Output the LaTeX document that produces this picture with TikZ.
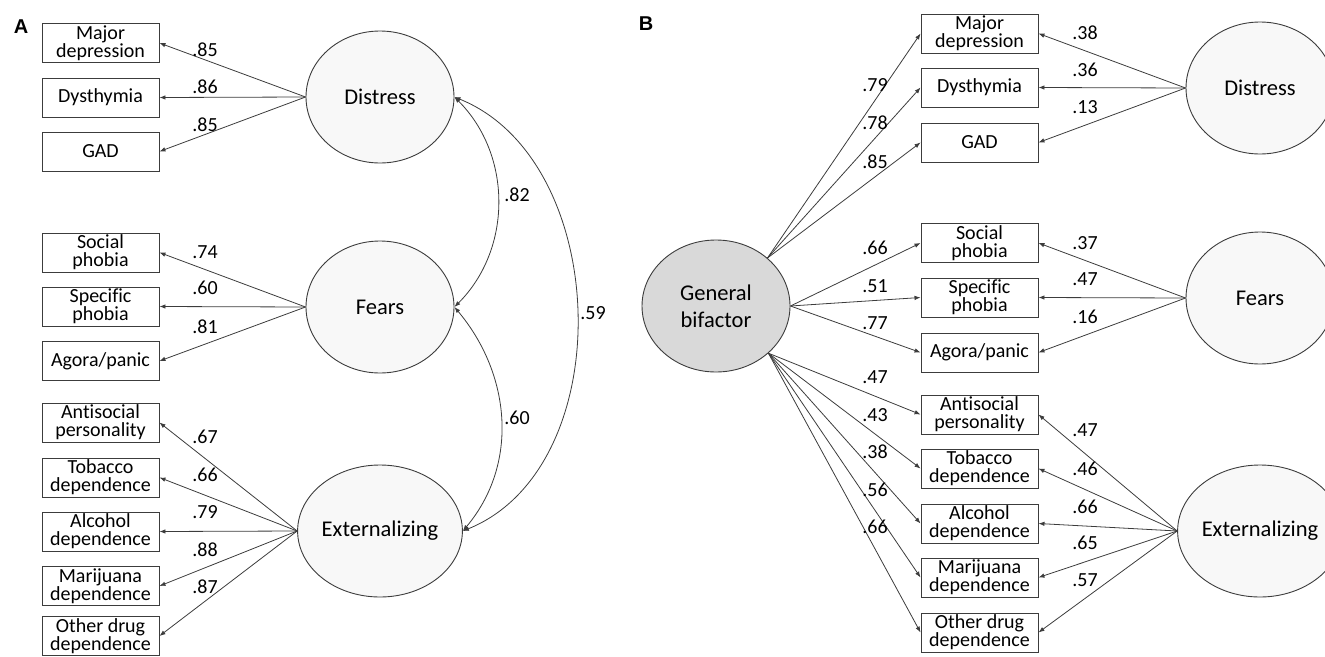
\documentclass[tikz,border=0pt]{standalone}
\usepackage{fontspec}
\setmainfont{Carlito}[Ligatures=NoCommon]
\newfontfamily\panelfont{Liberation Sans}
\usetikzlibrary{shapes.geometric,arrows.meta}

\definecolor{linegray}{HTML}{3C3C3C}
\definecolor{latfill}{HTML}{F8F8F8}
\definecolor{genfill}{HTML}{D9D9D9}

\begin{document}
\begin{tikzpicture}
  [x=1pt,y=1pt,>={Latex[length=6pt,width=4.5pt]},
   obs/.style={draw=linegray,line width=.9pt,minimum width=117pt,minimum height=39pt,
     inner sep=0pt,align=center,font=\fontsize{20}{18}\selectfont},
   lat/.style={ellipse,draw=linegray,line width=.9pt,fill=latfill,minimum width=148pt,
     minimum height=132pt,inner sep=0pt,align=center,font=\fontsize{22.5}{27}\selectfont},
   coef/.style={inner sep=0pt,font=\fontsize{20}{20}\selectfont},
   load/.style={->,draw=linegray,line width=.8pt},
   cov/.style={<->,draw=linegray,line width=.8pt},
   panel/.style={inner sep=0pt,font=\panelfont\bfseries\fontsize{20}{20}\selectfont}]
  \useasboundingbox (0,0) rectangle (1325,-656);

  % panel A
  \node[panel] (pa) at (21,-27) {A};
  \node[obs] (a1) at (100.5,-43) {Major\\depression};
  \node[obs] (a2) at (100.5,-97.5) {Dysthymia};
  \node[obs] (a3) at (100.5,-151.5) {GAD};
  \node[obs] (a4) at (100.5,-252.5) {Social\\phobia};
  \node[obs] (a5) at (100.5,-306.5) {Specific\\phobia};
  \node[obs] (a6) at (100.5,-361) {Agora/panic};
  \node[obs] (a7) at (100.5,-422.5) {Antisocial\\personality};
  \node[obs] (a8) at (100.5,-477.5) {Tobacco\\dependence};
  \node[obs] (a9) at (100.5,-531.5) {Alcohol\\dependence};
  \node[obs] (a10) at (100.5,-586) {Marijuana\\dependence};
  \node[obs] (a11) at (100.5,-636) {Other drug\\dependence};

  \node[lat] (dA) at (380,-97) {Distress};
  \node[lat] (fA) at (380,-307) {Fears};
  \node[lat] (eA) at (380,-531) {Externalizing};

  \draw[load] (dA.west) -- (a1.east);
  \draw[load] (dA.west) -- (a2.east);
  \draw[load] (dA.west) -- (a3.east);
  \draw[load] (fA.west) -- (a4.east);
  \draw[load] (fA.west) -- (a5.east);
  \draw[load] (fA.west) -- (a6.east);
  \draw[load] (eA.west) -- (a7.east);
  \draw[load] (eA.west) -- (a8.east);
  \draw[load] (eA.west) -- (a9.east);
  \draw[load] (eA.west) -- (a10.east);
  \draw[load] (eA.west) -- (a11.east);

  \draw[cov] (dA.east) to[out=-45,in=45] (fA.east);
  \draw[cov] (fA.east) to[out=-50,in=50] (eA.east);
  \draw[cov] (dA.east) to[out=-22,in=22] (eA.east);

  \node[coef] (ka1) at (205,-50) {.85};
  \node[coef] (ka2) at (205,-87) {.86};
  \node[coef] (ka3) at (205,-125) {.85};
  \node[coef] (ka4) at (205,-252) {.74};
  \node[coef] (ka5) at (205,-288) {.60};
  \node[coef] (ka6) at (205,-327) {.81};
  \node[coef] (ka7) at (205,-437) {.67};
  \node[coef] (ka8) at (205,-475) {.66};
  \node[coef] (ka9) at (205,-512) {.79};
  \node[coef] (ka10) at (205,-550) {.88};
  \node[coef] (ka11) at (205,-587) {.87};
  \node[coef] (kdf) at (517,-195) {.82};
  \node[coef] (kfe) at (517,-418) {.60};
  \node[coef] (kde) at (593,-313) {.59};

  % panel B
  \node[panel] (pb) at (646,-24) {B};
  \node[obs] (b1) at (979.5,-33.5) {Major\\depression};
  \node[obs] (b2) at (979.5,-87.5) {Dysthymia};
  \node[obs] (b3) at (979.5,-142.5) {GAD};
  \node[obs] (b4) at (979.5,-243) {Social\\phobia};
  \node[obs] (b5) at (979.5,-297.5) {Specific\\phobia};
  \node[obs] (b6) at (979.5,-352.5) {Agora/panic};
  \node[obs] (b7) at (979.5,-414.5) {Antisocial\\personality};
  \node[obs] (b8) at (979.5,-468.5) {Tobacco\\dependence};
  \node[obs] (b9) at (979.5,-523.5) {Alcohol\\dependence};
  \node[obs] (b10) at (979.5,-577.5) {Marijuana\\dependence};
  \node[obs] (b11) at (979.5,-632.5) {Other drug\\dependence};

  \node[lat,fill=genfill] (g) at (716,-306) {General\\bifactor};
  \node[lat] (dB) at (1260,-88) {Distress};
  \node[lat] (fB) at (1260,-298) {Fears};
  \node[lat] (eB) at (1260,-531) {Externalizing};

  \draw[load] (g.43) -- (b1.west);
  \draw[load] (g.43) -- (b2.west);
  \draw[load] (g.43) -- (b3.west);
  \draw[load] (g.east) -- (b4.west);
  \draw[load] (g.east) -- (b5.west);
  \draw[load] (g.east) -- (b6.west);
  \draw[load] (g.-42) -- (b7.west);
  \draw[load] (g.-42) -- (b8.west);
  \draw[load] (g.-42) -- (b9.west);
  \draw[load] (g.-42) -- (b10.west);
  \draw[load] (g.-42) -- (b11.west);

  \draw[load] (dB.west) -- (b1.east);
  \draw[load] (dB.west) -- (b2.east);
  \draw[load] (dB.west) -- (b3.east);
  \draw[load] (fB.west) -- (b4.east);
  \draw[load] (fB.west) -- (b5.east);
  \draw[load] (fB.west) -- (b6.east);
  \draw[load] (eB.west) -- (b7.east);
  \draw[load] (eB.west) -- (b8.east);
  \draw[load] (eB.west) -- (b9.east);
  \draw[load] (eB.west) -- (b10.east);
  \draw[load] (eB.west) -- (b11.east);

  \node[coef] (kg1) at (875,-85) {.79};
  \node[coef] (kg2) at (875,-123) {.78};
  \node[coef] (kg3) at (875,-162) {.85};
  \node[coef] (kg4) at (875,-248) {.66};
  \node[coef] (kg5) at (875,-286) {.51};
  \node[coef] (kg6) at (875,-323) {.77};
  \node[coef] (kg7) at (875,-377) {.47};
  \node[coef] (kg8) at (875,-415) {.43};
  \node[coef] (kg9) at (875,-452) {.38};
  \node[coef] (kg10) at (875,-490) {.56};
  \node[coef] (kg11) at (875,-527) {.66};

  \node[coef] (kb1) at (1085,-33) {.38};
  \node[coef] (kb2) at (1085,-70) {.36};
  \node[coef] (kb3) at (1085,-107) {.13};
  \node[coef] (kb4) at (1085,-243) {.37};
  \node[coef] (kb5) at (1085,-279) {.47};
  \node[coef] (kb6) at (1085,-317) {.16};
  \node[coef] (kb7) at (1085,-430) {.47};
  \node[coef] (kb8) at (1085,-469) {.46};
  \node[coef] (kb9) at (1085,-507) {.66};
  \node[coef] (kb10) at (1085,-543) {.65};
  \node[coef] (kb11) at (1085,-580) {.57};
\end{tikzpicture}
\end{document}
